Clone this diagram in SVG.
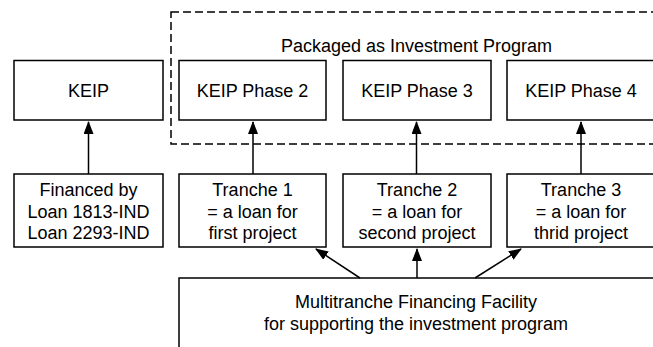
<svg xmlns="http://www.w3.org/2000/svg" width="653" height="347" viewBox="0 0 653 347">
<style>
.box{fill:#fff;stroke:#000;stroke-width:1.5}
.t{font-family:"Liberation Sans",Arial,Helvetica,sans-serif;font-size:18px;fill:#000;text-anchor:middle}
.c{stroke:#000;stroke-width:1.5;fill:none;marker-end:url(#ah)}
</style>
<defs>
<marker id="ah" markerWidth="13" markerHeight="10" refX="12" refY="5" orient="auto" markerUnits="userSpaceOnUse">
<path d="M0,0 L13,5 L0,10 Z" fill="#000"/>
</marker>
</defs>
<rect x="0" y="0" width="653" height="347" fill="#fff"/>
<g id="package">
<rect x="171" y="12" width="495" height="132" fill="none" stroke="#000" stroke-width="1.5" stroke-dasharray="8 4"/>
<text class="t" x="416.5" y="52">Packaged as Investment Program</text>
</g>
<g id="keip"><rect class="box" x="14" y="60.5" width="149" height="59.5"/><text class="t" x="88.5" y="97">KEIP</text></g>
<g id="phase2"><rect class="box" x="179" y="60.5" width="147" height="59.5"/><text class="t" x="252.5" y="97">KEIP Phase 2</text></g>
<g id="phase3"><rect class="box" x="343" y="60.5" width="148" height="59.5"/><text class="t" x="417" y="97">KEIP Phase 3</text></g>
<g id="phase4"><rect class="box" x="507" y="60.5" width="148" height="59.5"/><text class="t" x="581" y="97">KEIP Phase 4</text></g>
<g id="financed"><rect class="box" x="14" y="174" width="149" height="73"/>
<text class="t" x="88.5" y="196">Financed by</text><text class="t" x="88.5" y="217.5">Loan 1813-IND</text><text class="t" x="88.5" y="239">Loan 2293-IND</text></g>
<g id="tranche1"><rect class="box" x="179" y="174" width="147" height="73"/>
<text class="t" x="252.5" y="196">Tranche 1</text><text class="t" x="252.5" y="217.5">= a loan for</text><text class="t" x="252.5" y="239">first project</text></g>
<g id="tranche2"><rect class="box" x="343" y="174" width="148" height="73"/>
<text class="t" x="417" y="196">Tranche 2</text><text class="t" x="417" y="217.5">= a loan for</text><text class="t" x="417" y="239">second project</text></g>
<g id="tranche3"><rect class="box" x="507" y="174" width="148" height="73"/>
<text class="t" x="581" y="196">Tranche 3</text><text class="t" x="581" y="217.5">= a loan for</text><text class="t" x="581" y="239">thrid project</text></g>
<g id="mff"><rect class="box" x="179" y="278" width="480" height="80"/>
<text class="t" x="416" y="308">Multitranche Financing Facility</text><text class="t" x="416" y="330">for supporting the investment program</text></g>
<g id="connectors">
<line class="c" x1="88.5" y1="174" x2="88.5" y2="122"/>
<line class="c" x1="253" y1="174" x2="253" y2="122"/>
<line class="c" x1="416.5" y1="174" x2="416.5" y2="122"/>
<line class="c" x1="581" y1="174" x2="581" y2="122"/>
<line class="c" x1="360" y1="278" x2="316" y2="249"/>
<line class="c" x1="417" y1="278" x2="417" y2="249"/>
<line class="c" x1="475" y1="278" x2="521" y2="249"/>
</g>
</svg>
